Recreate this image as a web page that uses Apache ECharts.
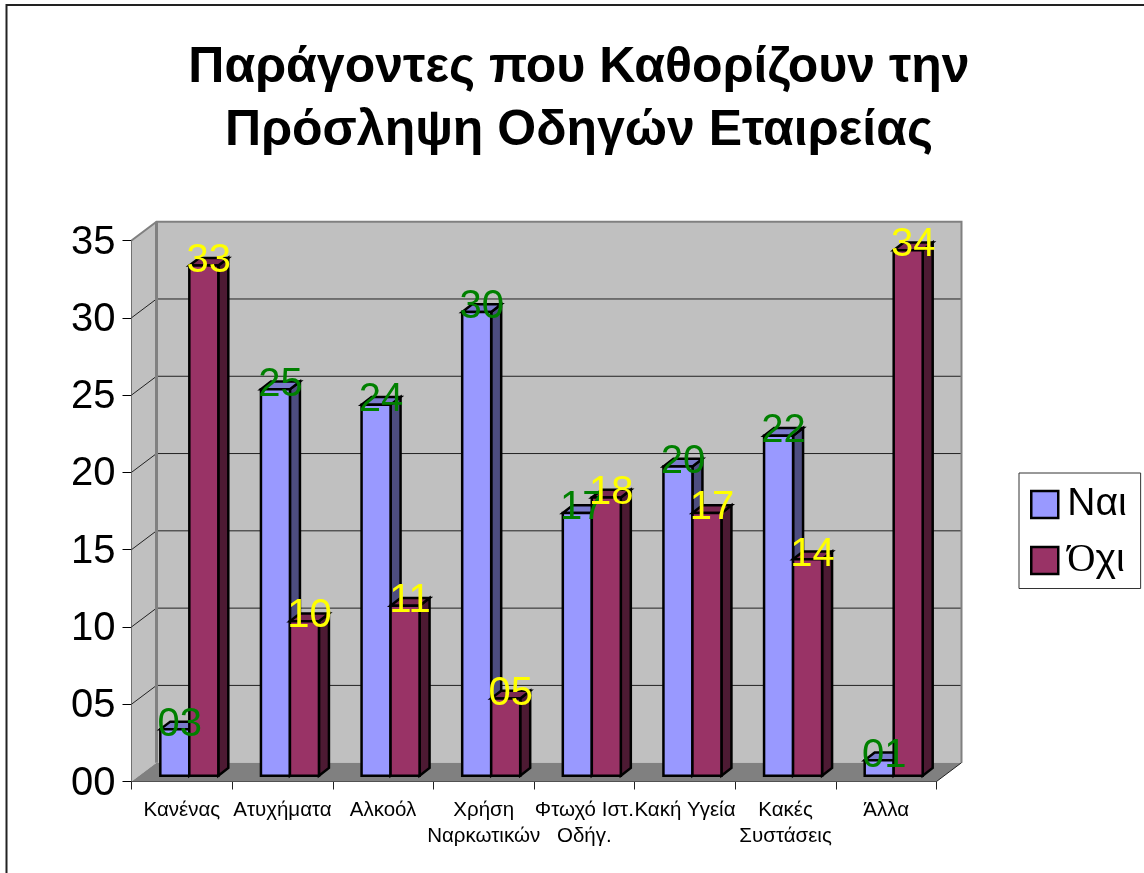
<!DOCTYPE html>
<html><head><meta charset="utf-8">
<style>html,body{margin:0;padding:0;background:#fff;overflow:hidden}#c{width:1144px;height:873px}</style>
<script src="https://cdn.jsdelivr.net/npm/echarts@6/dist/echarts.min.js"></script>
</head><body><div id="c"></div>
<script>
const titleText = 'Παράγοντες που Καθορίζουν την\nΠρόσληψη Οδηγών Εταιρείας';
const categories = ['Κανένας','Ατυχήματα','Αλκοόλ','Χρήση\nΝαρκωτικών','Φτωχό Ιστ.\nΟδήγ.','Κακή Υγεία','Κακές\nΣυστάσεις','Άλλα'];
const yes = [3,25,24,30,17,20,22,1];
const no = [33,10,11,5,18,17,14,34];
const yTicks = [5,10,15,20,25,30];

const WALL = {dx:25, dy:-18.8};
const BAR = {w:29, ox:7.5, oy:-5.8, dx:10, dy:-7.7};
const FONT = '"Liberation Sans", Arial, sans-serif';
const pad = v => String(v).padStart(2,'0');

function barSeries(name, values, fill, top, side, slot){
  return {
    name, type:'custom', z:3, coordinateSystem:'cartesian2d', clip:false,
    itemStyle:{color:fill},
    encode:{x:0,y:1},
    data: values.map((v,i)=>[i,v]),
    renderItem(params, api){
      const p0 = api.coord([api.value(0),0]);
      const p1 = api.coord([api.value(0),api.value(1)]);
      const x0 = p0[0] + (slot-1)*BAR.w + BAR.ox;
      const x1 = x0 + BAR.w;
      const yb = p0[1] + BAR.oy, yt = p1[1] + BAR.oy;
      const d = BAR.dx, e = BAR.dy;
      const st = f => ({fill:f, stroke:'#000', lineWidth:2.5, lineJoin:'miter'});
      return {type:'group', children:[
        {type:'polygon', shape:{points:[[x1,yb],[x1+d,yb+e],[x1+d,yt+e],[x1,yt]]}, style:st(side)},
        {type:'polygon', shape:{points:[[x0,yt],[x1,yt],[x1+d,yt+e],[x0+d,yt+e]]}, style:st(top)},
        {type:'polygon', shape:{points:[[x0,yb],[x1,yb],[x1,yt],[x0,yt]]}, style:st(fill)}
      ]};
    }
  };
}
function labelSeries(name, values, color, slot){
  return {
    name, type:'custom', z:6, coordinateSystem:'cartesian2d', clip:false, silent:true,
    encode:{x:0,y:1},
    data: values.map((v,i)=>[i,v]),
    renderItem(params, api){
      const p = api.coord([api.value(0),api.value(1)]);
      const x = p[0] + (slot-1)*BAR.w + BAR.ox + BAR.w/2 + BAR.dx/2;
      const y = p[1] + BAR.oy + BAR.dy + 3;
      return {type:'text', style:{text:pad(api.value(1)), x, y, fill:color,
        font:'40px '+FONT, textAlign:'center', textVerticalAlign:'middle'}};
    }
  };
}
const wallSeries = {
  name:'walls', type:'custom', z:1, coordinateSystem:'cartesian2d', clip:false, silent:true,
  encode:{y:1},
  data:[[0,35]],
  renderItem(params, api){
    const size = api.size([1,0])[0];
    const bl = api.coord([0,0]), tl = api.coord([0,35]);
    const xL = bl[0]-size/2, xR = xL + size*categories.length;
    const yB = bl[1], yT = tl[1], dx = WALL.dx, dy = WALL.dy;
    const ch = [
      {type:'polygon', shape:{points:[[xL+dx,yT+dy],[xR+dx,yT+dy],[xR+dx,yB+dy],[xL+dx,yB+dy]]}, style:{fill:'#c0c0c0',stroke:null}},
      {type:'polygon', shape:{points:[[xL,yT],[xL+dx,yT+dy],[xL+dx,yB+dy],[xL,yB]]}, style:{fill:'#c0c0c0',stroke:null}},
      {type:'polygon', shape:{points:[[xL,yB],[xL+dx,yB+dy],[xR+dx,yB+dy],[xR,yB]]}, style:{fill:'#808080',stroke:null}}
    ];
    yTicks.forEach(t=>{
      const y = api.coord([0,t])[1];
      ch.push({type:'polyline', shape:{points:[[xL,y],[xL+dx,y+dy],[xR+dx,y+dy]]}, style:{fill:null,stroke:'#222',lineWidth:1}});
    });
    const gray = {fill:null, stroke:'#808080', lineWidth:2};
    ch.push({type:'polyline', shape:{points:[[xL,yT],[xL+dx,yT+dy],[xR+dx,yT+dy],[xR+dx,yB+dy]]}, style:gray});
    ch.push({type:'line', shape:{x1:xL+dx,y1:yT+dy,x2:xL+dx,y2:yB+dy}, style:{stroke:'#808080',lineWidth:3}});
    ch.push({type:'line', shape:{x1:xR,y1:yB,x2:xR+dx,y2:yB+dy}, style:{stroke:'#222',lineWidth:1}});
    return {type:'group', children:ch};
  }
};

const chart = echarts.init(document.getElementById('c'), null, {renderer:'canvas'});
chart.setOption({
  backgroundColor:'#fff',
  animation:false,
  graphic:[{type:'polyline', z:0, silent:true, shape:{points:[[6.5,873],[6.5,5],[1144,5]]}, style:{fill:null,stroke:'#222',lineWidth:2}}],
  title:{text:titleText, left:574, top:32, textAlign:'center',
    textStyle:{fontFamily:FONT,fontWeight:'bold',fontSize:50,lineHeight:63,color:'#000'}},
  legend:{
    orient:'vertical', left:1019, top:473,
    padding:[12,14,8.5,11], itemGap:17, itemWidth:27, itemHeight:27,
    backgroundColor:'#fff', borderColor:'#333', borderWidth:1, borderRadius:0,
    icon:'rect', selectedMode:false,
    data:['Ναι','Όχι'],
    itemStyle:{borderColor:'#000',borderWidth:2.5},
    formatter:n=>n==='Όχι'?'{s|Ό}{t|χι}':'{n|'+n+'}',
    textStyle:{fontFamily:FONT,fontSize:39,color:'#000',
      rich:{t:{fontFamily:FONT,fontSize:39,lineHeight:30,color:'#000'},
            n:{fontFamily:FONT,fontSize:39,lineHeight:30,color:'#000',padding:[0,0,0,4]},
            s:{fontFamily:'"Liberation Serif",serif',fontSize:39,lineHeight:30,color:'#000',padding:[0,0,0,4]}}}
  },
  grid:{left:131.5,right:207.5,top:240.5,bottom:91.5,containLabel:false},
  xAxis:{type:'category',data:categories,boundaryGap:true,
    axisLine:{show:true,lineStyle:{color:'#222',width:1}},
    axisTick:{show:true,alignWithLabel:false,length:8,lineStyle:{color:'#222'}},
    axisLabel:{fontFamily:FONT,fontSize:20.5,lineHeight:26,color:'#000',margin:16,interval:0,hideOverlap:false},
    splitLine:{show:false}},
  yAxis:{type:'value',min:0,max:35,interval:5,
    axisLine:{show:true,onZero:false,lineStyle:{color:'#222',width:1}},
    axisTick:{show:true,length:9,lineStyle:{color:'#000'}},
    axisLabel:{color:'#000',margin:16,formatter:v=>'{a|'+pad(v)+'}',
      rich:{a:{fontFamily:FONT,fontSize:40,color:'#000',padding:[4,0,0,0]}}},
    splitLine:{show:false}},
  series:[
    wallSeries,
    barSeries('Ναι',yes,'#9999ff','#7a7acc','#4d4d80',0),
    barSeries('Όχι',no,'#993366','#7a2952','#4d1a33',1),
    labelSeries('Ναι τιμές',yes,'#008000',0),
    labelSeries('Όχι τιμές',no,'#ffff00',1)
  ]
});
</script></body></html>
